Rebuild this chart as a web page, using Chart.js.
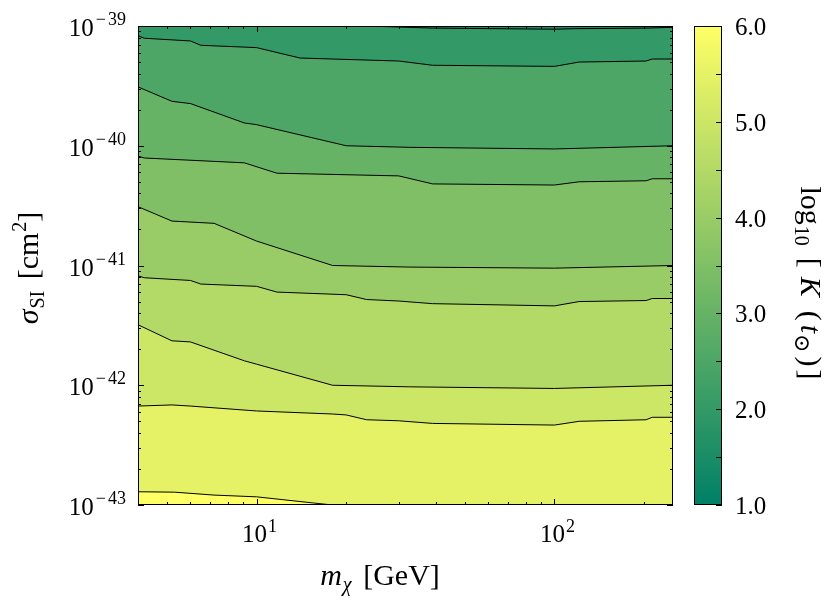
<!DOCTYPE html>
<html>
<head>
<meta charset="utf-8">
<script src="https://cdn.jsdelivr.net/npm/chart.js@4.4.0/dist/chart.umd.min.js"></script>
<style>
  html, body { margin: 0; padding: 0; background: #fff; }
  #wrap { width: 830px; height: 602px; position: relative; }
</style>
</head>
<body>
<div id="wrap"><canvas id="chart"></canvas></div>
<script>
// contour levels of log10 K(t_sun)
const LEVELS = [1.0, 1.5, 2.0, 2.5, 3.0, 3.5, 4.0, 4.5, 5.0, 5.5, 6.0];

// contour lines (mass in GeV, sigma in cm^2)
const massA = [4, 23.4, 39, 100, 118, 203, 250];
const sigmaA = [1.0e-39, 1.0e-39, 9.6e-40, 9.4e-40, 9.5e-40, 9.6e-40, 9.75e-40];

const massB = [4, 4.2, 6, 6.5, 10, 14, 30, 39, 100, 121, 203, 213, 250];
const sigmaB = [8.3e-40, 7.9e-40, 7.5e-40, 6.9e-40, 6.6e-40, 5.4e-40, 5.1e-40, 4.7e-40, 4.6e-40, 5.0e-40, 5.1e-40, 5.3e-40, 5.3e-40];

const massC = [4, 5.2, 6, 9.1, 10, 20, 32.7, 100, 250];
const sigmaC = [3.1e-40, 2.35e-40, 2.25e-40, 1.55e-40, 1.5e-40, 1.0e-40, 9.7e-41, 9.4e-41, 1.0e-40];

const massD = [4, 4.2, 9.1, 11.7, 30, 39, 100, 121, 203, 213, 250];
const sigmaD = [8.2e-41, 7.9e-41, 7.2e-41, 5.9e-41, 5.6e-41, 4.8e-41, 4.7e-41, 5.0e-41, 5.1e-41, 5.3e-41, 5.3e-41];

const massE = [4, 5.2, 7.2, 10, 18, 32.7, 100, 250];
const sigmaE = [3.1e-41, 2.35e-41, 2.25e-41, 1.6e-41, 1.0e-41, 9.7e-42, 9.5e-42, 1.0e-41];

const massF = [4, 4.2, 6, 6.5, 10, 11.7, 20, 23.4, 30, 39, 100, 121, 203, 213, 250];
const sigmaF = [8.2e-42, 7.9e-42, 7.5e-42, 7.0e-42, 6.7e-42, 6.0e-42, 5.7e-42, 5.2e-42, 5.05e-42, 4.8e-42, 4.6e-42, 5.0e-42, 5.1e-42, 5.3e-42, 5.3e-42];

const massG = [4, 5.2, 6, 9.1, 10, 18, 32.7, 100, 250];
const sigmaG = [3.2e-42, 2.35e-42, 2.3e-42, 1.6e-42, 1.5e-42, 1.0e-42, 9.7e-43, 9.4e-43, 1.0e-42];

const massH = [4, 5.2, 6, 10, 18, 20, 23.4, 30, 39, 100, 121, 203, 213, 250];
const sigmaH = [6.7e-43, 6.85e-43, 6.7e-43, 6.1e-43, 5.75e-43, 5.65e-43, 5.15e-43, 5.05e-43, 4.8e-43, 4.65e-43, 5.0e-43, 5.15e-43, 5.4e-43, 5.4e-43];

const massI = [4, 5.3, 7.2, 10, 15.5, 18, 250];
const sigmaI = [1.29e-43, 1.28e-43, 1.21e-43, 1.17e-43, 1.04e-43, 1.0e-43, 1.0e-43];

const X_MAJOR = [10, 100];
const Y_MAJOR = [1e-39, 1e-40, 1e-41, 1e-42, 1e-43];
const CB_TICKS = [1.0, 2.0, 3.0, 4.0, 5.0, 6.0];

const contours = [
  [massA, sigmaA], [massB, sigmaB], [massC, sigmaC], [massD, sigmaD], [massE, sigmaE],
  [massF, sigmaF], [massG, sigmaG], [massH, sigmaH], [massI, sigmaI]
];

const SERIF = '"Liberation Serif", "DejaVu Serif", serif';
const F = `25px ${SERIF}`;      // tick labels
const FS = `18px ${SERIF}`;     // tick exponents
const FT = `30px ${SERIF}`;     // titles
const FTI = `italic 30px ${SERIF}`;
const FTS = `20px ${SERIF}`;
const FTSI = `italic 20px ${SERIF}`;

// matplotlib "summer"
function summer(t) {
  const r = Math.round(255 * t), g = Math.round(255 * (0.5 + 0.5 * t));
  return `rgb(${r},${g},102)`;
}
const vmin = LEVELS[0], vmax = LEVELS[LEVELS.length - 1];
// filled band k lies between LEVELS[k] and LEVELS[k+1]
function bandColor(k) {
  return summer((LEVELS[k + 1] - vmin) / (vmax - vmin));
}

const datasets = contours.map(([m, s], k) => ({
  data: m.map((x, i) => ({ x, y: s[i] })),
  borderColor: '#000',
  borderWidth: 1,
  backgroundColor: bandColor(k + 1),
  fill: 'start',
  pointRadius: 0,
  tension: 0,
  order: 20 - k
}));

function richWidth(ctx, parts) {
  let w = 0;
  for (const p of parts) { ctx.font = p.font; w += ctx.measureText(p.t).width + (p.gap || 0); }
  return w;
}
function drawRich(ctx, parts, x, y, align) {
  const w = richWidth(ctx, parts);
  let cx = align === 'center' ? x - w / 2 : align === 'right' ? x - w : x;
  ctx.textAlign = 'left';
  for (const p of parts) {
    ctx.font = p.font;
    ctx.fillText(p.t, cx, y + (p.dy || 0));
    cx += ctx.measureText(p.t).width + (p.gap || 0);
  }
}

const decor = {
  id: 'decor',
  beforeDatasetsDraw(chart) {
    const { ctx, chartArea: a } = chart;
    ctx.save();
    ctx.fillStyle = bandColor(0);
    ctx.fillRect(a.left, a.top, a.right - a.left, a.bottom - a.top);
    ctx.restore();
  },
  afterDatasetsDraw(chart) {
    const { ctx, chartArea: a, scales } = chart;
    const xs = scales.x, ys = scales.y, cb = scales.cb;
    ctx.save();
    ctx.strokeStyle = '#000';
    ctx.fillStyle = '#000';
    ctx.lineWidth = 1;
    ctx.strokeRect(a.left + 0.5, a.top + 0.5, a.right - a.left - 1, a.bottom - a.top - 1);

    const tick = (x1, y1, x2, y2) => {
      ctx.beginPath(); ctx.moveTo(x1, y1); ctx.lineTo(x2, y2); ctx.stroke();
    };
    // x ticks, inside, top and bottom
    for (const d of [1, 10, 100]) {
      for (let k = 1; k <= 9; k++) {
        const v = k * d;
        if (v < 4 || v > 250) continue;
        const len = k === 1 ? 6 : 3;
        const px = Math.round(xs.getPixelForValue(v)) + 0.5;
        tick(px, a.bottom, px, a.bottom - len);
        tick(px, a.top, px, a.top + len);
      }
    }
    // y ticks, inside, left and right
    for (const d of [1e-43, 1e-42, 1e-41, 1e-40, 1e-39]) {
      for (let k = 1; k <= 9; k++) {
        const v = k * d;
        if (v > 1.0001e-39) continue;
        const len = k === 1 ? 6 : 3;
        const py = Math.round(ys.getPixelForValue(v)) + 0.5;
        tick(a.left, py, a.left + len, py);
        tick(a.right, py, a.right - len, py);
      }
    }

    ctx.textBaseline = 'alphabetic';
    for (const v of X_MAJOR) {
      const e = Math.round(Math.log10(v));
      drawRich(ctx, [{ t: '10', font: F, gap: 1 }, { t: String(e), font: FS, dy: -10 }],
        xs.getPixelForValue(v) + 3, 542, 'center');
    }
    for (const v of Y_MAJOR) {
      const e = Math.round(Math.log10(v));
      drawRich(ctx, [{ t: '10', font: F, gap: 2 }, { t: '\u2212', font: FS, dy: -11, gap: 2 },
        { t: String(Math.abs(e)), font: FS, dy: -11 }],
        a.left - 12, ys.getPixelForValue(v) + 10, 'right');
    }

    // axis titles
    drawRich(ctx, [{ t: 'm', font: FTI, gap: 1 }, { t: '\u03c7', font: FTSI, dy: 6, gap: 4 },
      { t: ' [GeV]', font: FT }], 380, 585, 'center');
    ctx.save();
    ctx.translate(38, 268);
    ctx.rotate(-Math.PI / 2);
    drawRich(ctx, [{ t: '\u03c3', font: FTI, gap: 1 }, { t: 'SI', font: FTS, dy: 6, gap: 4 },
      { t: ' [cm', font: FT, gap: 1 }, { t: '2', font: FTS, dy: -12 }, { t: ']', font: FT }],
      0, 0, 'center');
    ctx.restore();

    // colorbar
    const cx0 = 694, cx1 = 722;
    const yTop = cb.getPixelForValue(vmax), yBot = cb.getPixelForValue(vmin);
    const grad = ctx.createLinearGradient(0, yBot, 0, yTop);
    grad.addColorStop(0, summer(0));
    grad.addColorStop(1, summer(1));
    ctx.fillStyle = grad;
    ctx.fillRect(cx0, yTop, cx1 - cx0, yBot - yTop);
    ctx.strokeRect(cx0 + 0.5, yTop + 0.5, cx1 - cx0 - 1, yBot - yTop - 1);
    for (let v = vmin; v <= vmax + 1e-9; v += 0.5) {
      const py = Math.round(cb.getPixelForValue(v)) + 0.5;
      tick(cx1, py, cx1 - 6, py);
    }
    ctx.fillStyle = '#000';
    ctx.font = F;
    ctx.textAlign = 'left';
    ctx.textBaseline = 'alphabetic';
    for (const v of CB_TICKS) {
      ctx.fillText(v.toFixed(1), 735, cb.getPixelForValue(v) + 9);
    }
    ctx.save();
    ctx.translate(801, 283);
    ctx.rotate(Math.PI / 2);
    drawRich(ctx, [{ t: 'log', font: FT, gap: 1 }, { t: '10', font: FTS, dy: 6, gap: 12 },
      { t: '[', font: FT, gap: 9 }, { t: 'K', font: FTI, gap: 14 }, { t: '(', font: FT, gap: 4 },
      { t: 't', font: FTI, gap: 1 }, { t: '\u2299', font: `22px ${SERIF}`, dy: 6, gap: 4 },
      { t: ')', font: FT, gap: 3 }, { t: ']', font: FT }], 0, 0, 'center');
    ctx.restore();
    ctx.restore();
  }
};

new Chart(document.getElementById('chart'), {
  type: 'line',
  data: { datasets },
  options: {
    responsive: true,
    maintainAspectRatio: false,
    animation: false,
    layout: { padding: { left: 138, top: 26, right: 157, bottom: 97 } },
    plugins: { legend: { display: false }, tooltip: { enabled: false } },
    scales: {
      x: { type: 'logarithmic', min: 4, max: 250, display: false },
      y: { type: 'logarithmic', min: 1e-43, max: 1e-39, display: false },
      cb: { type: 'linear', position: 'right', min: 1, max: 6, display: false }
    }
  },
  plugins: [decor]
});
</script>
</body>
</html>
